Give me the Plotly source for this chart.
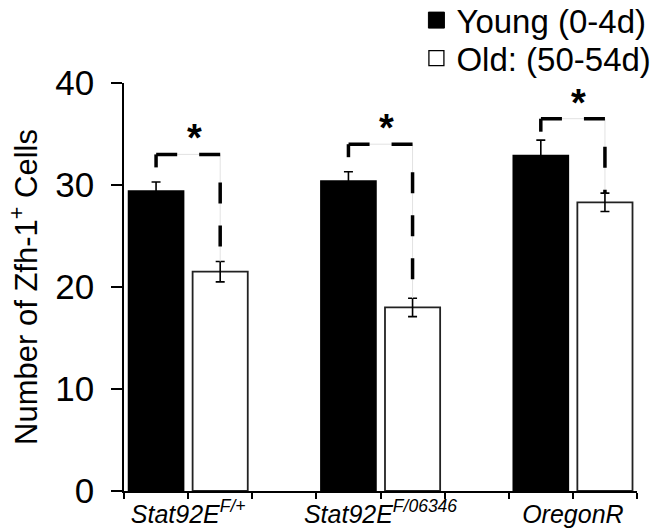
import plotly.graph_objects as go

# ---- data ----
categories = ["<i>Stat92E<sup>F/+</sup></i>", "<i>Stat92E<sup>F/06346</sup></i>", "<i>OregonR</i>"]
series_names = ["Young (0-4d)", "Old: (50-54d)"]
young = [29.4, 30.4, 32.9]
young_err = [0.9, 0.9, 1.5]
old = [21.5, 18.0, 28.3]
old_err = [1.0, 0.9, 0.9]
bracket_top = [33.0, 34.0, 36.5]
sig_marks = ["*", "*", "*"]
y_ticks = [0, 10, 20, 30, 40]

FONT = "Liberation Sans, Arial, sans-serif"
SLOTS = 3  # each genotype occupies three x-slots: young, old, spacer
n = len(categories)
young_x = [i * SLOTS + 0.5 for i in range(n)]
old_x = [i * SLOTS + 1.5 for i in range(n)]
label_x = [i * SLOTS + 1 for i in range(n)]
x_max = n * SLOTS - 1
tick_vals = list(range(x_max + 1))
tick_text = [categories[label_x.index(t)] if t in label_x else "" for t in tick_vals]

fig = go.Figure()
fig.add_trace(go.Bar(
    x=young_x, y=young, width=0.86, name=series_names[0], showlegend=False,
    marker=dict(color="black", line=dict(color="black", width=1.5)),
    error_y=dict(type="data", array=young_err, color="black", thickness=1.6, width=4.5),
))
fig.add_trace(go.Bar(
    x=old_x, y=old, width=0.86, name=series_names[1], showlegend=False,
    marker=dict(color="white", line=dict(color="#222", width=1.8)),
    error_y=dict(type="data", array=old_err, color="black", thickness=1.6, width=4.5),
))
# legend entries (square swatches)
fig.add_trace(go.Scatter(
    x=[None], y=[None], mode="markers", name=series_names[0], legend="legend",
    marker=dict(symbol="square", size=16, color="black", line=dict(color="black", width=1))))
fig.add_trace(go.Scatter(
    x=[None], y=[None], mode="markers", name=series_names[1], legend="legend2",
    marker=dict(symbol="square", size=15, color="white", line=dict(color="black", width=1.3))))

# significance brackets
for i in range(n):
    xl, xr = young_x[i], old_x[i]
    top = bracket_top[i]
    y_old_top = old[i] + old_err[i]
    y_young_top = young[i] + young_err[i]
    fig.add_trace(go.Scatter(
        x=[xl, xr, xr], y=[top, top, y_old_top], mode="lines",
        line=dict(color="#e2e2e2", width=1), showlegend=False, hoverinfo="skip"))
    fig.add_trace(go.Scatter(
        x=[xr, xl], y=[top, top], mode="lines",
        line=dict(color="black", width=3.5, dash="21px,22px"),
        showlegend=False, hoverinfo="skip"))
    fig.add_trace(go.Scatter(
        x=[xr, xr], y=[top, y_old_top], mode="lines",
        line=dict(color="black", width=3.5,
                  dash="0px,28px,21px,22px,21px,22px,21px,22px,21px,22px,21px,22px"),
        showlegend=False, hoverinfo="skip"))
    fig.add_trace(go.Scatter(
        x=[xl, xl], y=[top, y_young_top], mode="lines",
        line=dict(color="black", width=3.5, dash="13px,300px"),
        showlegend=False, hoverinfo="skip"))
    fig.add_annotation(
        x=(xl + xr) / 2, y=top, text="<b>" + sig_marks[i] + "</b>", showarrow=False,
        xshift=6, yshift=-7, yanchor="bottom",
        font=dict(family=FONT, size=38, color="black"))

legend_common = dict(
    xanchor="left", yanchor="middle",
    font=dict(family=FONT, size=33, color="black"),
    bgcolor="rgba(0,0,0,0)", itemsizing="trace",
)

fig.update_layout(
    width=655, height=530,
    margin=dict(l=124, r=18, t=83, b=39, autoexpand=False),
    paper_bgcolor="white", plot_bgcolor="white",
    font=dict(family=FONT, color="black"),
    barmode="overlay",
    showlegend=True,
    legend=dict(x=0.57, y=1.154, **legend_common),
    legend2=dict(x=0.57, y=1.061, **legend_common),
    xaxis=dict(
        range=[0, x_max], tickmode="array", tickvals=tick_vals, ticktext=tick_text,
        ticks="outside", ticklen=6, tickwidth=1.5, tickcolor="black",
        showline=True, linecolor="black", linewidth=1.5,
        showgrid=False, zeroline=False,
        tickfont=dict(family=FONT, size=25, color="black"),
        ticklabelstandoff=-6,
    ),
    yaxis=dict(
        range=[0, 40], tickmode="array", tickvals=y_ticks,
        ticks="outside", ticklen=11, tickwidth=1.5, tickcolor="black",
        showline=True, linecolor="black", linewidth=1.5,
        showgrid=False, zeroline=False,
        tickfont=dict(family=FONT, size=35, color="black"),
        ticklabelstandoff=10,
        title=dict(text="Number of Zfh-1<sup>+</sup> Cells",
                   font=dict(family=FONT, size=31, color="black"), standoff=8),
    ),
)

fig.write_html("out.html", config={"displayModeBar": False},
               post_script="document.body.style.margin='0';")
